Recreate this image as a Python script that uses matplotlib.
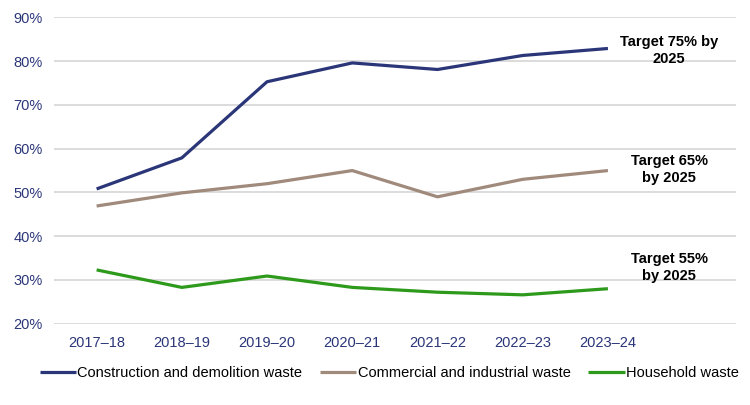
import matplotlib.pyplot as plt
import numpy as np

plt.rcParams['font.family'] = ['Liberation Sans', 'DejaVu Sans']

# Data (% recovered)
years = ['2017–18', '2018–19', '2019–20', '2020–21', '2021–22', '2022–23', '2023–24']
construction = [50.8, 57.9, 75.3, 79.6, 78.1, 81.3, 82.9]
commercial = [46.9, 49.9, 52.0, 55.0, 49.0, 53.0, 55.0]
household = [32.3, 28.3, 30.9, 28.3, 27.2, 26.6, 28.0]
series_names = ['Construction and demolition waste',
                'Commercial and industrial waste',
                'Household waste']
targets = ['Target 75% by\n2025', 'Target 65%\nby 2025', 'Target 55%\nby 2025']
target_y = [82.5, 55.2, 32.8]

navy = '#2B3679'
brown = '#A08A7C'
green = '#2E9A1C'
tick_color = '#2B3679'

fig = plt.figure(figsize=(7.5, 4.05), dpi=100)
ax = fig.add_axes([0.072, 0.2007, 0.909, 0.7563])

x = np.arange(len(years))
ax.plot(x, construction, color=navy, lw=2.3, label=series_names[0], solid_capstyle='butt')
ax.plot(x, commercial, color=brown, lw=2.3, label=series_names[1], solid_capstyle='butt')
ax.plot(x, household, color=green, lw=2.3, label=series_names[2], solid_capstyle='butt')

# target labels to the right of the last point
for txt, ty in zip(targets, target_y):
    ax.text(len(years) - 0.28, ty, txt, ha='center', va='center',
            fontsize=10.5, fontweight='bold', color='black', linespacing=1.3)

ax.set_xlim(-0.5, len(years) + 0.5)
ax.set_ylim(20, 90)
ax.set_xticks(x)
ax.set_xticklabels(years)
yt = np.arange(20, 91, 10)
ax.set_yticks(yt)
ax.set_yticklabels([f'{v}%' for v in yt])
ax.tick_params(axis='both', length=0, labelsize=10.5, colors=tick_color)
ax.tick_params(axis='y', pad=8)
ax.tick_params(axis='x', pad=9)

ax.grid(axis='y', color='#D9D9D9', lw=1.3)
ax.set_axisbelow(True)
for s in ax.spines.values():
    s.set_visible(False)

fig.legend(loc='center', bbox_to_anchor=(0.519, 0.079), ncol=3, frameon=False,
           fontsize=10.5, handlelength=2.5, handletextpad=0.1, columnspacing=1.2)

fig.savefig('out.png', dpi=100)
